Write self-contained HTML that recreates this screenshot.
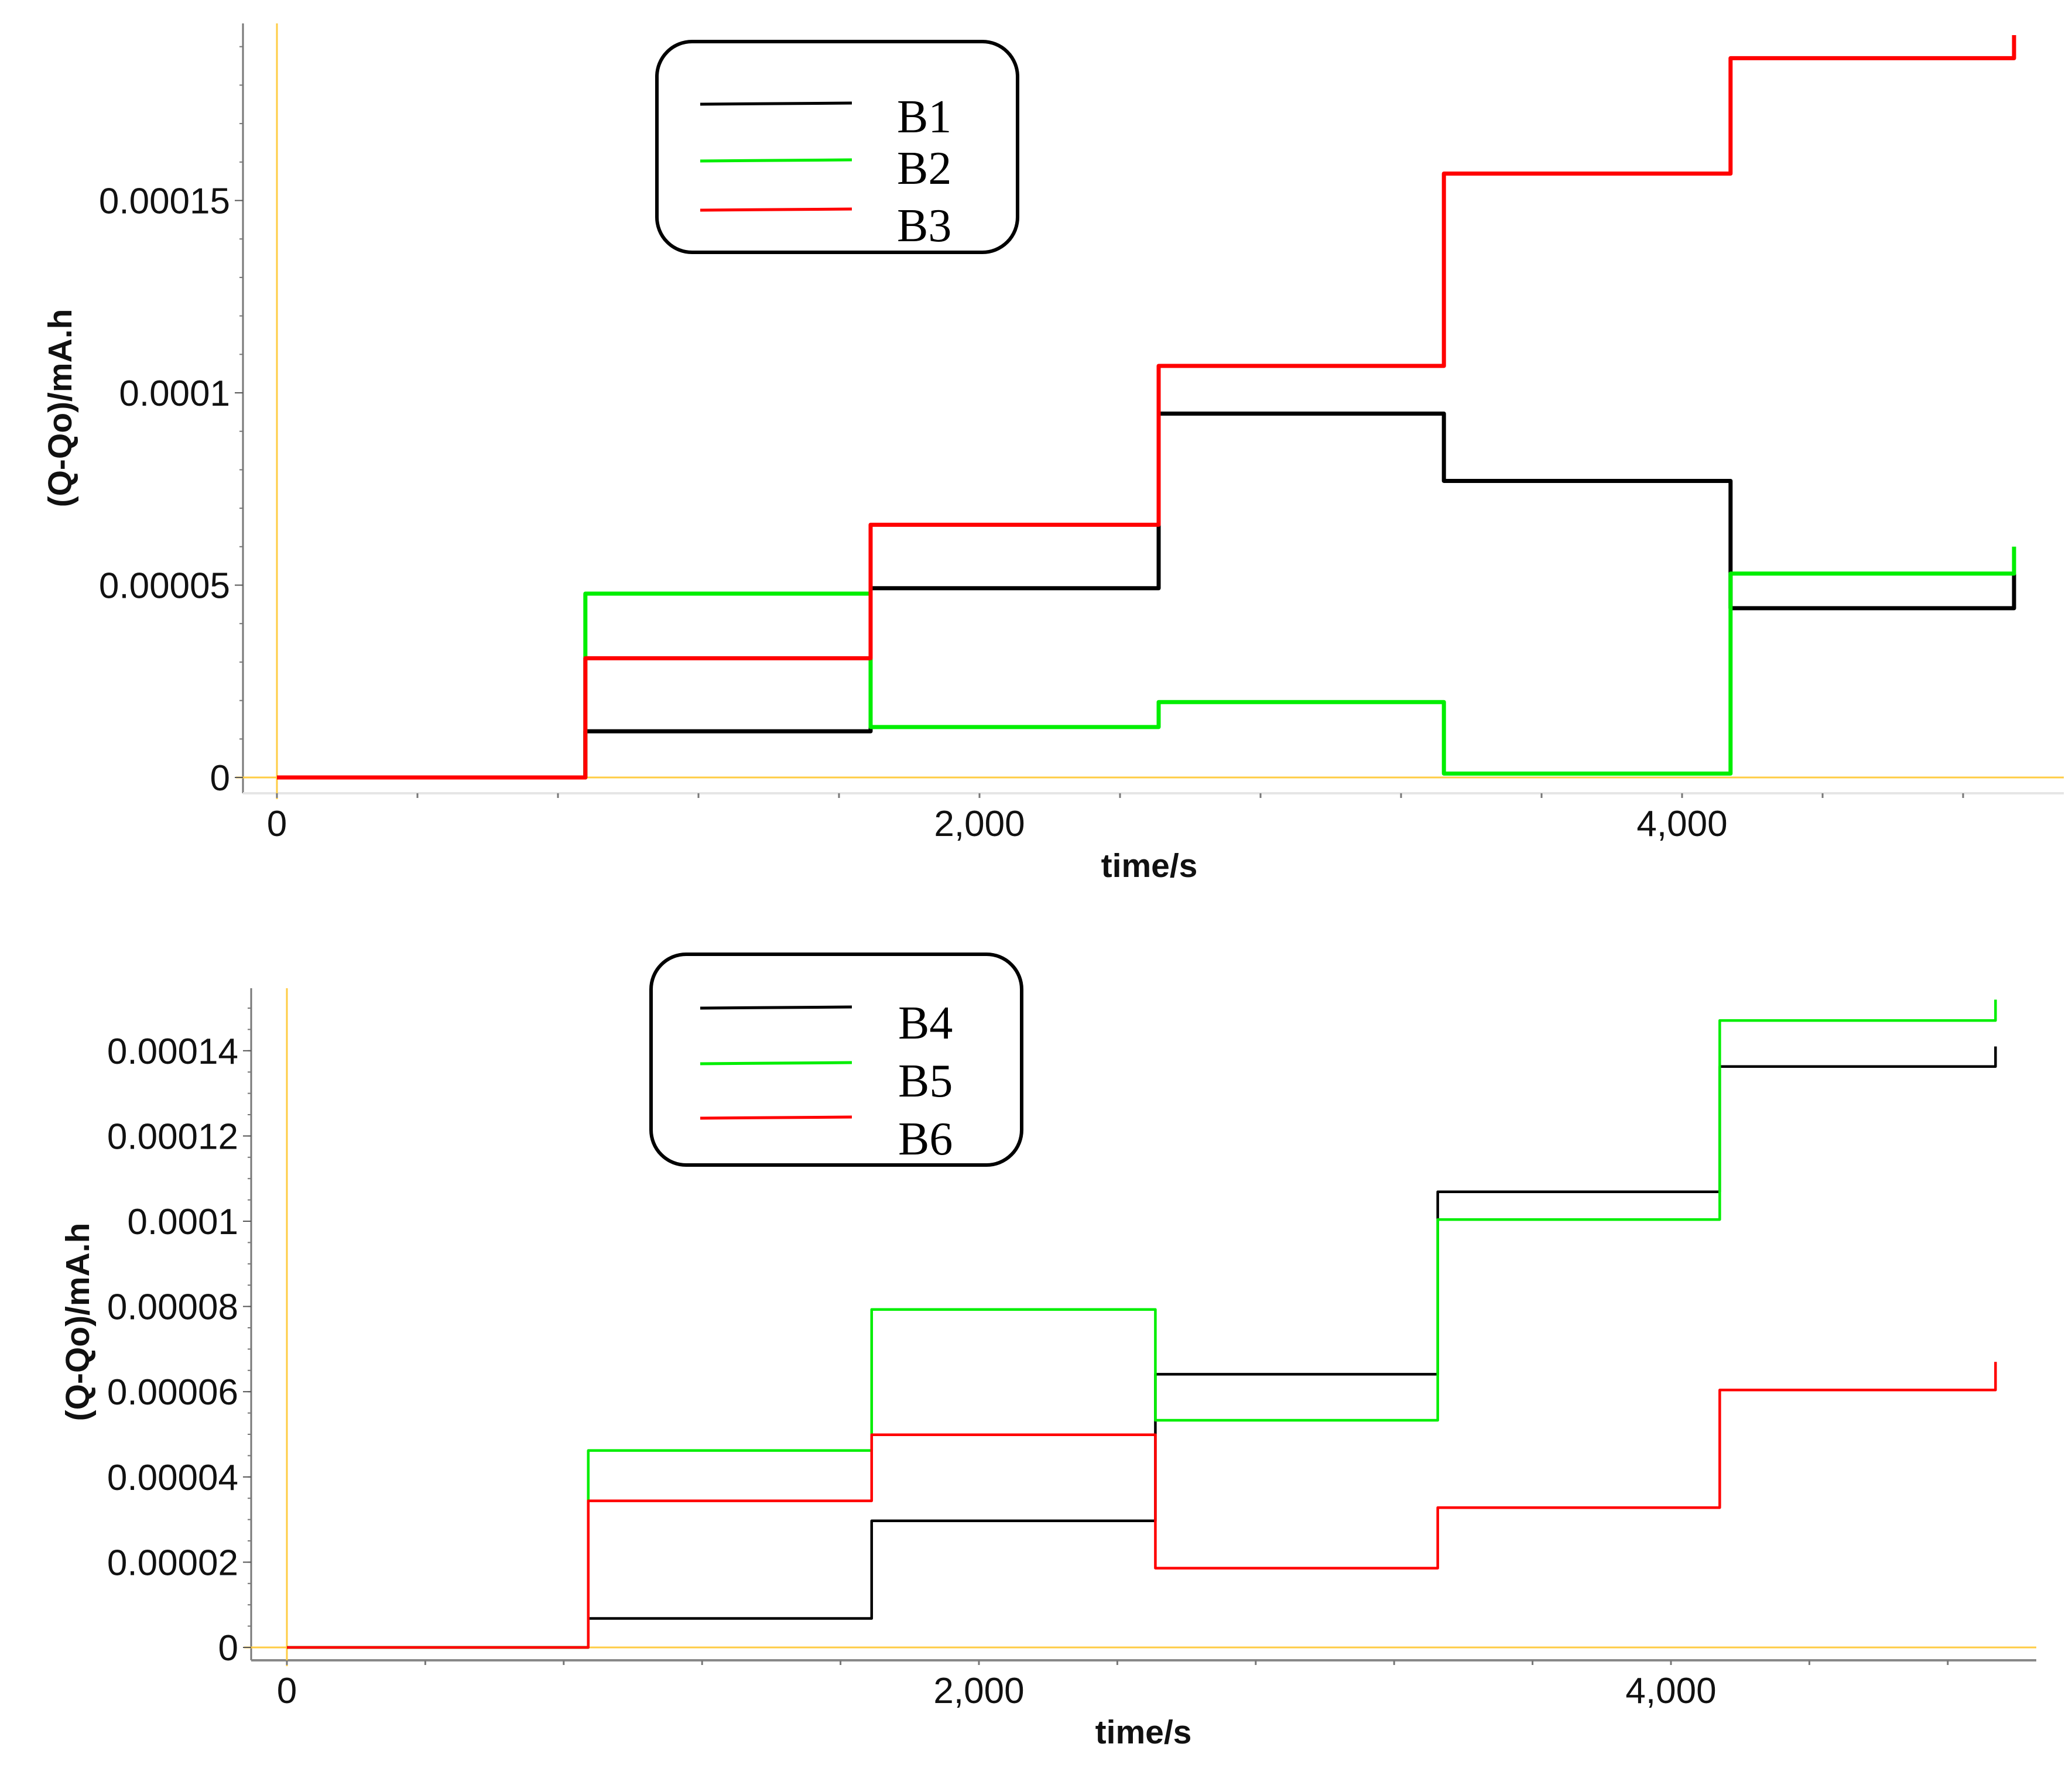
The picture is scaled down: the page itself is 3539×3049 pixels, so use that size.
<!DOCTYPE html>
<html><head><meta charset="utf-8"><style>
html,body{margin:0;padding:0;background:#fff;}
svg{display:block;}
text{font-family:"Liberation Sans",sans-serif;}
.leg{font-family:"Liberation Serif",serif;font-size:80px;fill:#000;}
</style></head><body>
<svg id="chart" width="3539" height="3049" viewBox="0 0 3539 3049" xmlns="http://www.w3.org/2000/svg"></svg>
<script>
// ---- data: top chart ----
const topStepTimes = [0, 878, 1690, 2510, 3322, 4138, 4945];
const topB1 = [0, 0.0000120, 0.0000492, 0.0000946, 0.0000771, 0.0000440];
const topB2 = [0, 0.0000478, 0.0000131, 0.0000196, 0.0000010, 0.0000530];
const topB3 = [0, 0.0000310, 0.0000657, 0.0001070, 0.0001570, 0.0001870];
const topEndB1 = 0.000055, topEndB2 = 0.000060, topEndB3 = 0.000193;
const topYTicks = [0, 0.00005, 0.0001, 0.00015];
const topYTickLabels = ["0", "0.00005", "0.0001", "0.00015"];
const topXTicks = [0, 2000, 4000];
const topXTickLabels = ["0", "2,000", "4,000"];
// ---- data: bottom chart ----
const botStepTimes = [0, 871, 1690, 2510, 3326, 4141, 4938];
const botB4 = [0, 0.0000068, 0.0000297, 0.0000641, 0.0001069, 0.0001363];
const botB5 = [0, 0.0000462, 0.0000793, 0.0000533, 0.0001004, 0.0001471];
const botB6 = [0, 0.0000344, 0.0000499, 0.0000186, 0.0000328, 0.0000604];
const botEndB4 = 0.000141, botEndB5 = 0.000152, botEndB6 = 0.000067;
const botYTicks = [0, 0.00002, 0.00004, 0.00006, 0.00008, 0.0001, 0.00012, 0.00014];
const botYTickLabels = ["0", "0.00002", "0.00004", "0.00006", "0.00008", "0.0001", "0.00012", "0.00014"];
const botXTicks = [0, 2000, 4000];
const botXTickLabels = ["0", "2,000", "4,000"];

const NS = "http://www.w3.org/2000/svg";
const svg = document.getElementById("chart");
function mk(tag, attrs, parent) {
  const e = document.createElementNS(NS, tag);
  for (const k in attrs) e.setAttribute(k, attrs[k]);
  (parent || svg).appendChild(e);
  return e;
}

function drawChart(cfg) {
  const g = mk("g", {});
  
  
  const xs = t => cfg.x0 + t * cfg.pxPerSec;
  const ys = v => cfg.y0 - v * cfg.pxPerUnit;
  const ya = mk("line", {x1: cfg.axX, y1: cfg.axTop, x2: cfg.axX, y2: cfg.axBottom, stroke: "#777", "stroke-width": 3}, g);
  
  
  const xa = mk("line", {x1: cfg.axX, y1: cfg.axBottom, x2: cfg.axRight, y2: cfg.axBottom, stroke: cfg.xAxisColor, "stroke-width": 4}, g);
  
  
  const yl1 = mk("line", {x1: xs(0), y1: cfg.axTop, x2: xs(0), y2: cfg.axBottom + 10, stroke: "#ffcc44", "stroke-width": 3}, g);
  
  
  const yl2 = mk("line", {x1: cfg.axX - 12, y1: ys(0), x2: cfg.axRight, y2: ys(0), stroke: "#ffcc44", "stroke-width": 3}, g);
  
  
  const step = (cfg.yTicks[1] - cfg.yTicks[0]) / cfg.yMinor;
  for (let v = 0; ys(v) >= cfg.axTop; v += step) {
    mk("line", {x1: cfg.axX - 6, y1: ys(v), x2: cfg.axX, y2: ys(v), stroke: "#777", "stroke-width": 2}, g);
  }
  cfg.yTicks.forEach((v, i) => {
    mk("line", {x1: cfg.axX - 14, y1: ys(v), x2: cfg.axX, y2: ys(v), stroke: "#555", "stroke-width": 2}, g);
    const t = mk("text", {x: cfg.axX - 22, y: ys(v) + 22, "text-anchor": "end", "font-size": 62, fill: "#111"}, g);
    t.textContent = cfg.yLabels[i];
    
    
  });
  for (let s = 0; xs(s) <= cfg.axRight; s += 400) {
    mk("line", {x1: xs(s), y1: cfg.axBottom, x2: xs(s), y2: cfg.axBottom + 8, stroke: "#777", "stroke-width": 3}, g);
  }
  cfg.xTicks.forEach((s, i) => {
    const t = mk("text", {x: xs(s), y: cfg.axBottom + 73, "text-anchor": "middle", "font-size": 62, fill: "#111"}, g);
    t.textContent = cfg.xLabels[i];
    
    
  });
  const xt = mk("text", {x: cfg.xTitleX, y: cfg.xTitleY, "text-anchor": "middle", "font-size": 57, "font-weight": "bold", fill: "#111"}, g);
  xt.textContent = "time/s";
  
  
  const yt = mk("text", {x: 0, y: 0, "text-anchor": "middle", "font-size": 57, "font-weight": "bold", fill: "#111",
    transform: `translate(${cfg.yTitleX},${cfg.yTitleY}) rotate(-90)`}, g);
  yt.textContent = "(Q-Qo)/mA.h";
  
  
  cfg.series.forEach(sr => {
    let d = `M${xs(cfg.times[0])},${ys(sr.vals[0])}`;
    for (let i = 0; i < sr.vals.length; i++) {
      d += ` L${xs(cfg.times[i])},${ys(sr.vals[i])} L${xs(cfg.times[i + 1])},${ys(sr.vals[i])}`;
    }
    d += ` L${xs(cfg.times[cfg.times.length - 1])},${ys(sr.end)}`;
    const p = mk("path", {d: d, fill: "none", stroke: sr.color, "stroke-width": cfg.lw, "stroke-linejoin": "round"}, g);
    
    
  });
  const L = cfg.legend;
  const lb = mk("rect", {x: L.x, y: L.y, width: L.w, height: L.h, rx: 60, ry: 60, fill: "#fff", stroke: "#000", "stroke-width": 6}, g);
  
  
  cfg.series.forEach((sr, i) => {
    const ln = mk("line", {x1: L.lx1, y1: L.ly[i], x2: L.lx2, y2: L.ly[i] - 2, stroke: sr.color, "stroke-width": 5}, g);
    
    
    const t = mk("text", {x: L.tx, y: L.ty[i], class: "leg"}, g);
    t.textContent = sr.key;
    
    
  });
}

drawChart({
  name: "top-chart", x0: 473, y0: 1328, pxPerSec: 0.600, pxPerUnit: 6570000,
  axX: 415, axTop: 40, axBottom: 1355, axRight: 3525, xAxisColor: "#e6e6e6", yMinor: 5,
  yTicks: topYTicks, yLabels: topYTickLabels, xTicks: topXTicks, xLabels: topXTickLabels,
  xTitleX: 1963, xTitleY: 1498, yTitleX: 122, yTitleY: 697, lw: 7, times: topStepTimes,
  series: [
    {key: "B1", color: "#000", vals: topB1, end: topEndB1},
    {key: "B2", color: "#00ee00", vals: topB2, end: topEndB2},
    {key: "B3", color: "#ff0000", vals: topB3, end: topEndB3}
  ],
  legend: {x: 1122, y: 71, w: 616, h: 360, lx1: 1196, lx2: 1455, ly: [178, 275, 359], tx: 1532, ty: [226, 314, 412]}
});

drawChart({
  name: "bottom-chart", x0: 490, y0: 2814, pxPerSec: 0.591, pxPerUnit: 7280000,
  axX: 429, axTop: 1688, axBottom: 2836, axRight: 3478, xAxisColor: "#888", yMinor: 4,
  yTicks: botYTicks, yLabels: botYTickLabels, xTicks: botXTicks, xLabels: botXTickLabels,
  xTitleX: 1953, xTitleY: 2978, yTitleX: 152, yTitleY: 2258, lw: 4.5, times: botStepTimes,
  series: [
    {key: "B4", color: "#000", vals: botB4, end: botEndB4},
    {key: "B5", color: "#00ee00", vals: botB5, end: botEndB5},
    {key: "B6", color: "#ff0000", vals: botB6, end: botEndB6}
  ],
  legend: {x: 1112, y: 1630, w: 633, h: 360, lx1: 1196, lx2: 1455, ly: [1722, 1817, 1910], tx: 1534, ty: [1774, 1873, 1972]}
});
</script>
</body></html>
